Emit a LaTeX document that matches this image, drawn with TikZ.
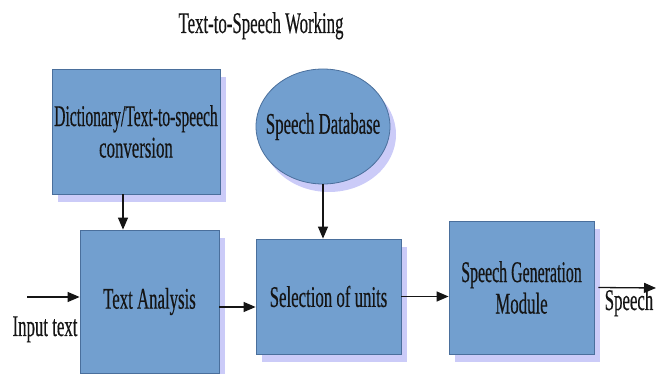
\documentclass[tikz,border=0pt]{standalone}
\usepackage{fontspec}
\newfontfamily\condserif[FakeStretch=0.56,FakeBold=0.4]{Liberation Serif}
\newfontfamily\condserifn[FakeStretch=0.52,FakeBold=0.4]{Liberation Serif}
\newfontfamily\condserifm[FakeStretch=0.53,FakeBold=0.4]{Liberation Serif}
\usetikzlibrary{arrows.meta,shapes.geometric,shadows}
\definecolor{boxfill}{HTML}{729FCF}
\definecolor{boxline}{HTML}{4A6F9C}
\definecolor{shadowc}{HTML}{CBCBF8}
\definecolor{inkc}{HTML}{151515}
\tikzset{
  lbl/.style={font=\condserif\fontsize{30}{31.5}\selectfont, text=inkc, align=center, inner sep=0pt},
  blockbox/.style={lbl, draw=boxline, line width=0.8pt, fill=boxfill, rectangle,
    drop shadow={shadow xshift=6pt, shadow yshift=-8pt, fill=shadowc, opacity=1}},
  dbshape/.style={lbl, draw=boxline, line width=0.8pt, fill=boxfill, ellipse, inner xsep=-30pt,
    drop shadow={shadow xshift=6pt, shadow yshift=-8pt, fill=shadowc, opacity=1}},
  arr/.style={draw=inkc, line width=1.3pt, -{Triangle[length=12pt,width=10pt]}}
}
\begin{document}
\begin{tikzpicture}[x=1pt,y=-1pt]
\useasboundingbox (0,0) rectangle (657,374);
\node[lbl, anchor=base] (title) at (261,33) {Text-to-Speech Working};
\node[blockbox, minimum width=168pt, minimum height=125pt] (dict) at (136,131.5) {{\condserifn Dictionary/Text-to-speech}\\conversion};
\node[dbshape, minimum width=134pt, minimum height=115pt] (db) at (323,126.5) {Speech Database};
\node[blockbox, minimum width=139pt, minimum height=143pt] (ta) at (149.5,301.5) {Text Analysis};
\node[blockbox, minimum width=145pt, minimum height=115pt] (sel) at (328.5,296.5) {Selection of units};
\node[blockbox, minimum width=145pt, minimum height=133pt] (sgm) at (521.5,287.5) {{\condserifm Speech Generation}\\Module};
\node[lbl, anchor=base] (intext) at (45,336) {Input text};
\node[lbl, anchor=base] (speech) at (629,310) {Speech};
\coordinate (inp) at (27,297);
\coordinate (outp) at (656,288);
\draw[arr] ([xshift=-13pt]dict.south) -- ([xshift=-13pt]dict.south |- ta.north);
\draw[arr] (db.south) -- (db.south |- sel.north);
\draw[arr] (inp) -- (inp -| ta.west);
\draw[arr] ([yshift=-5.5pt]ta.east) -- ([yshift=-5.5pt]ta.east -| sel.west);
\draw[arr] (sel.east) -- (sel.east -| sgm.west);
\draw[arr] ([xshift=4pt]sgm.east) -- (outp);
\end{tikzpicture}
\end{document}
